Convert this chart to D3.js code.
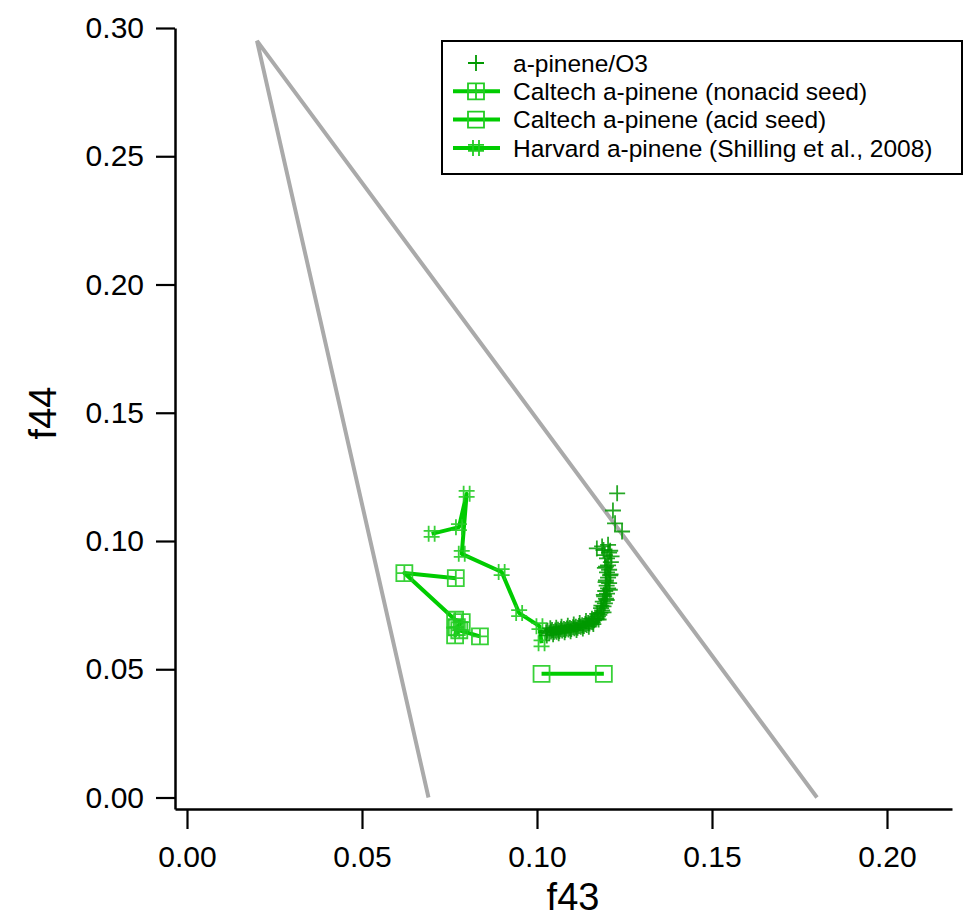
<!DOCTYPE html>
<html>

<head>
  <meta charset="utf-8">
  <script src="https://d3js.org/d3.v7.min.js"></script>
  <style>
    body { margin: 0; background: #fff; }
    text { font-family: "Liberation Sans", Arial, sans-serif; }
  </style>
</head>

<body>
  <div id="my_dataviz"></div>
  <script>
    // a-pinene/O3 (dark + markers, no line)
    var o3X = [0.1026, 0.1030, 0.1035, 0.1040, 0.1043, 0.1048, 0.1052, 0.1056, 0.1060, 0.1064,
      0.1068, 0.1072, 0.1077, 0.1081, 0.1085, 0.1090, 0.1094, 0.1098, 0.1103, 0.1107,
      0.1111, 0.1116, 0.1120, 0.1125, 0.1129, 0.1134, 0.1138, 0.1142, 0.1146, 0.1150,
      0.1155, 0.1159, 0.1163, 0.1166, 0.1170, 0.1174, 0.1178, 0.1181, 0.1186, 0.1183,
      0.1190, 0.1194, 0.1188, 0.1197, 0.1192, 0.1200, 0.1195, 0.1203, 0.1199, 0.1206,
      0.1197, 0.1203, 0.1209, 0.1200, 0.1206, 0.1194, 0.1203, 0.1211, 0.1200, 0.1194,
      0.1206, 0.1186, 0.1217, 0.1223, 0.1229, 0.1243,
      0.1028, 0.1038, 0.1046, 0.1055, 0.1062, 0.1070, 0.1079, 0.1088, 0.1096, 0.1105,
      0.1113, 0.1122, 0.1131, 0.1140, 0.1148, 0.1157, 0.1161, 0.1172, 0.1176, 0.1184,
      0.1190, 0.1199, 0.1191, 0.1208, 0.1196, 0.1210, 0.1197, 0.1213, 0.1190, 0.1203,
      0.1171, 0.1209];
    var o3Y = [0.0644, 0.0650, 0.0640, 0.0647, 0.0653, 0.0645, 0.0651, 0.0646, 0.0654, 0.0649,
      0.0656, 0.0651, 0.0657, 0.0653, 0.0659, 0.0655, 0.0661, 0.0657, 0.0664, 0.0660,
      0.0666, 0.0662, 0.0669, 0.0666, 0.0672, 0.0669, 0.0676, 0.0673, 0.0680, 0.0678,
      0.0685, 0.0683, 0.0691, 0.0695, 0.0699, 0.0706, 0.0712, 0.0720, 0.0729, 0.0738,
      0.0745, 0.0757, 0.0764, 0.0775, 0.0784, 0.0795, 0.0805, 0.0815, 0.0826, 0.0836,
      0.0846, 0.0857, 0.0866, 0.0878, 0.0888, 0.0895, 0.0905, 0.0918, 0.0932, 0.0945,
      0.0955, 0.0979, 0.1119, 0.1069, 0.1186, 0.1037,
      0.0632, 0.0660, 0.0636, 0.0662, 0.0640, 0.0666, 0.0644, 0.0670, 0.0648, 0.0674,
      0.0653, 0.0680, 0.0659, 0.0688, 0.0666, 0.0697, 0.0676, 0.0716, 0.0694, 0.0748,
      0.0722, 0.0770, 0.0790, 0.0810, 0.0840, 0.0870, 0.0900, 0.0940, 0.0965, 0.0985,
      0.0971, 0.0962];

    // Caltech a-pinene (nonacid seed)
    var nonacidX = [0.0768, 0.0621, 0.0766, 0.0785, 0.0771, 0.0766, 0.0778, 0.0837];
    var nonacidY = [0.0855, 0.0875, 0.0693, 0.0684, 0.0664, 0.0632, 0.0652, 0.0628];

    // Caltech a-pinene (acid seed)
    var acidX = [0.1013, 0.1191];
    var acidY = [0.0482, 0.0482];

    // Harvard a-pinene (Shilling et al., 2008)
    var harvardX = [0.0699, 0.0777, 0.0799, 0.0785, 0.0899, 0.0949, 0.1007, 0.1013];
    var harvardY = [0.1028, 0.1054, 0.1184, 0.0950, 0.0879, 0.0719, 0.0668, 0.0601];

    // triangle guide lines
    var triX = [0.069, 0.02, 0.18];
    var triY = [0.0, 0.295, 0.0];

    var xTicks = [0.00, 0.05, 0.10, 0.15, 0.20];
    var yTicks = [0.00, 0.05, 0.10, 0.15, 0.20, 0.25, 0.30];

    var legendNames = ["a-pinene/O3", "Caltech a-pinene (nonacid seed)",
      "Caltech a-pinene (acid seed)", "Harvard a-pinene (Shilling et al., 2008)"];

    var width = 965, height = 918;

    var svg = d3.select("#my_dataviz")
      .append("svg")
      .attr("width", width)
      .attr("height", height);

    // base mapping: 0 -> 187px, 0.2 -> 887px
    var xBase = d3.scaleLinear().domain([0, 0.2]).range([187, 887]);
    var x = d3.scaleLinear()
      .domain([xBase.invert(175), xBase.invert(952)])
      .range([175, 952]);

    var yBase = d3.scaleLinear().domain([0, 0.3]).range([797.5, 28]);
    var y = d3.scaleLinear()
      .domain([yBase.invert(809), 0.3])
      .range([809, 28]);

    var fmt = d3.format(".2f");

    // X axis
    var gx = svg.append("g")
      .attr("transform", "translate(0,809)")
      .call(d3.axisBottom(x).tickValues(xTicks).tickFormat(fmt).tickSize(20).tickSizeOuter(0).tickPadding(17));
    gx.select(".domain").attr("stroke-width", 2.5);
    gx.selectAll(".tick line").attr("stroke-width", 2.2);
    gx.selectAll("text").style("font-size", "30px").attr("fill", "#000");

    // Y axis
    var gy = svg.append("g")
      .attr("transform", "translate(175,0)")
      .call(d3.axisLeft(y).tickValues(yTicks).tickFormat(fmt).tickSize(19).tickSizeOuter(0).tickPadding(12));
    gy.select(".domain").attr("stroke-width", 2.5);
    gy.selectAll(".tick line").attr("stroke-width", 2.2);
    gy.selectAll("text").style("font-size", "30px").attr("fill", "#000");

    // axis titles
    svg.append("text")
      .attr("x", 573).attr("y", 910)
      .attr("text-anchor", "middle")
      .style("font-size", "38px")
      .text("f43");
    svg.append("text")
      .attr("transform", "translate(56,413)rotate(-90)")
      .attr("text-anchor", "middle")
      .style("font-size", "38px")
      .text("f44");

    // triangle
    var tri = d3.line().x(function (d) { return x(d[0]); }).y(function (d) { return y(d[1]); });
    svg.append("path")
      .attr("d", tri(d3.zip(triX, triY)))
      .attr("fill", "none")
      .attr("stroke", "#aaaaaa")
      .attr("stroke-width", 4);

    // marker shapes
    var markPlus = "M-8,0H8M0,-8V8";
    var markSqCross = "M-8,-8H8V8H-8ZM-8,0H8M0,-8V8";
    var markSquare = "M-8,-8H8V8H-8Z";
    var markHash = "M-8,-3H8M-8,3H8M-3,-8V8M3,-8V8";

    var lineGreen = "#00cc00", markGreen = "#22cc22", darkGreen = "#009900";

    function drawSeries(xs, ys, mark, withLine, markColor, markWidth, opacity) {
      var pts = d3.zip(xs, ys);
      if (withLine) {
        svg.append("path")
          .attr("d", tri(pts))
          .attr("fill", "none")
          .attr("stroke", lineGreen)
          .attr("stroke-width", 4)
          .attr("stroke-linejoin", "round");
      }
      svg.append("g").selectAll("path")
        .data(pts)
        .enter()
        .append("path")
        .attr("transform", function (d) { return "translate(" + x(d[0]) + "," + y(d[1]) + ")"; })
        .attr("d", mark)
        .attr("fill", "none")
        .attr("stroke", markColor)
        .attr("stroke-width", markWidth)
        .attr("stroke-opacity", opacity);
    }

    drawSeries(nonacidX, nonacidY, markSqCross, true, markGreen, 1.8, 0.9);
    drawSeries(acidX, acidY, markSquare, true, markGreen, 1.8, 0.9);
    drawSeries(harvardX, harvardY, markHash, true, markGreen, 1.8, 0.9);
    drawSeries(o3X, o3Y, markPlus, false, darkGreen, 1.8, 0.85);

    // legend
    var lg = svg.append("g");
    lg.append("rect")
      .attr("x", 442).attr("y", 41)
      .attr("width", 520).attr("height", 133)
      .attr("fill", "#fff")
      .attr("stroke", "#000")
      .attr("stroke-width", 2);
    var legMarks = [markPlus, markSqCross, markSquare, markHash];
    var legLine = [false, true, true, true];
    var legColor = [darkGreen, markGreen, markGreen, markGreen];
    legendNames.forEach(function (name, i) {
      var ly = 63 + i * 28.3;
      if (legLine[i]) {
        lg.append("line")
          .attr("x1", 453).attr("x2", 500)
          .attr("y1", ly).attr("y2", ly)
          .attr("stroke", lineGreen).attr("stroke-width", 4);
      }
      lg.append("path")
        .attr("transform", "translate(476," + ly + ")")
        .attr("d", legMarks[i])
        .attr("fill", "none")
        .attr("stroke", legColor[i])
        .attr("stroke-width", 1.8);
      lg.append("text")
        .attr("x", 513).attr("y", ly)
        .attr("dy", "0.36em")
        .style("font-size", "24.5px")
        .text(name);
    });
  </script>
</body>

</html>
